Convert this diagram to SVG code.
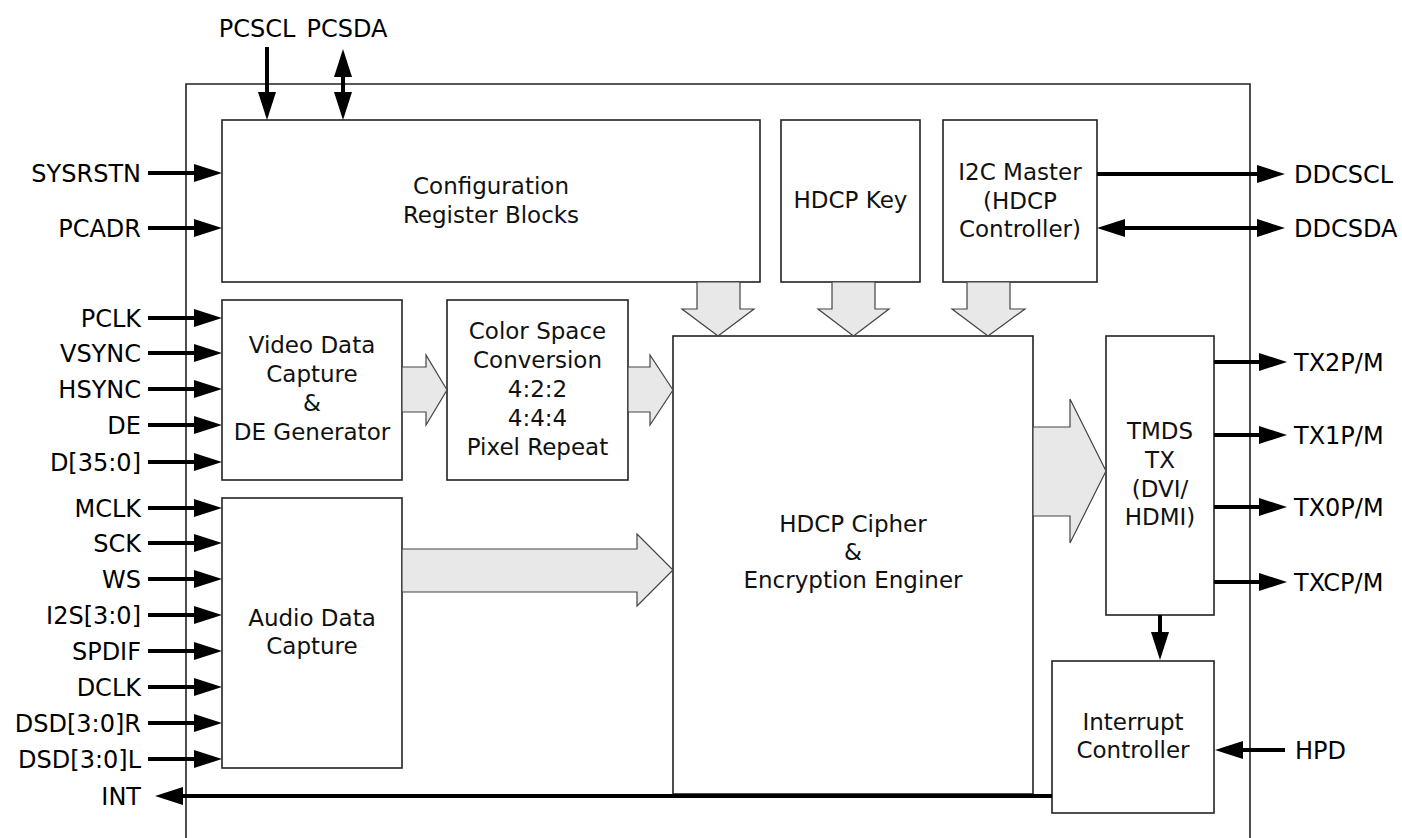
<svg xmlns="http://www.w3.org/2000/svg" width="1402" height="838" viewBox="0 0 1402 838">
<defs>
<style>
.box{fill:#fff;stroke:#222;stroke-width:1.6}
.frame{fill:none;stroke:#222;stroke-width:1.6}
.big{fill:#e8e8e8;stroke:#444;stroke-width:1.2;stroke-linejoin:miter}
.sig{stroke:#000;stroke-width:4;fill:none}
.lbl{font-family:"DejaVu Sans",Verdana,sans-serif;font-size:24px;fill:#000}
.blk{font-family:"DejaVu Sans",Verdana,sans-serif;font-size:23px;fill:#111;text-anchor:middle}
.r{text-anchor:end}
.m{text-anchor:middle}
</style>
<marker id="ah" markerUnits="userSpaceOnUse" markerWidth="28" markerHeight="18" viewBox="0 0 28 18" refX="2" refY="9" orient="auto-start-reverse">
<path d="M0,0 L28,9 L0,18 z" fill="#000"/>
</marker>
</defs>
<rect width="1402" height="838" fill="#fff"/>
<path class="frame" d="M186,840 V84 H1250 V840"/>

<g id="config"><rect class="box" x="222" y="120" width="538" height="162"/>
<text class="blk" x="491" y="194">Configuration</text><text class="blk" x="491" y="223">Register Blocks</text></g>
<g id="hdcpkey"><rect class="box" x="781" y="120" width="139" height="162"/>
<text class="blk" x="850.5" y="208">HDCP Key</text></g>
<g id="i2c"><rect class="box" x="943" y="120" width="154" height="162"/>
<text class="blk" x="1020" y="180">I2C Master</text><text class="blk" x="1020" y="209">(HDCP</text><text class="blk" x="1020" y="237">Controller)</text></g>
<g id="video"><rect class="box" x="222" y="300" width="180" height="180"/>
<text class="blk" x="312" y="353">Video Data</text><text class="blk" x="312" y="382">Capture</text><text class="blk" x="312" y="411">&amp;</text><text class="blk" x="312" y="440">DE Generator</text></g>
<g id="csc"><rect class="box" x="447" y="300" width="181" height="180"/>
<text class="blk" x="537.5" y="339">Color Space</text><text class="blk" x="537.5" y="368">Conversion</text><text class="blk" x="537.5" y="397">4:2:2</text><text class="blk" x="537.5" y="426">4:4:4</text><text class="blk" x="537.5" y="455">Pixel Repeat</text></g>
<g id="audio"><rect class="box" x="222" y="498" width="180" height="270"/>
<text class="blk" x="312" y="626">Audio Data</text><text class="blk" x="312" y="654">Capture</text></g>
<g id="cipher"><rect class="box" x="673" y="336" width="360" height="458"/>
<text class="blk" x="853" y="532">HDCP Cipher</text><text class="blk" x="853" y="560">&amp;</text><text class="blk" x="853" y="588">Encryption Enginer</text></g>
<g id="tmds"><rect class="box" x="1106" y="336" width="108" height="279"/>
<text class="blk" x="1160" y="439">TMDS</text><text class="blk" x="1160" y="468">TX</text><text class="blk" x="1160" y="497">(DVI/</text><text class="blk" x="1160" y="525">HDMI)</text></g>
<g id="intc"><rect class="box" x="1052" y="661" width="162" height="152"/>
<text class="blk" x="1133" y="730">Interrupt</text><text class="blk" x="1133" y="758">Controller</text></g>

<g id="connectors">
<polygon class="big" points="402,367 426,367 426,355 447,390 426,425 426,412 402,412"/>
<polygon class="big" points="628,367 650,367 650,355 673,390 650,425 650,412 628,412"/>
<polygon class="big" points="402,549 637,549 637,534 673,570 637,606 637,592 402,592"/>
<polygon class="big" points="1033,427 1070,427 1070,399 1106,471 1070,543 1070,516 1033,516"/>
<polygon class="big" points="697,282 740,282 740,309 754,309 718,336 682,309 697,309"/>
<polygon class="big" points="832,282 875,282 875,309 889,309 853.5,336 818,309 832,309"/>
<polygon class="big" points="967,282 1010,282 1010,309 1025,309 988,336 952,309 967,309"/>

<g marker-end="url(#ah)">
<line class="sig" x1="148" y1="173" x2="196" y2="173"/>
<line class="sig" x1="148" y1="228" x2="196" y2="228"/>
<line class="sig" x1="148" y1="318" x2="196" y2="318"/>
<line class="sig" x1="148" y1="353" x2="196" y2="353"/>
<line class="sig" x1="148" y1="389" x2="196" y2="389"/>
<line class="sig" x1="148" y1="425" x2="196" y2="425"/>
<line class="sig" x1="148" y1="462" x2="196" y2="462"/>
<line class="sig" x1="148" y1="508" x2="196" y2="508"/>
<line class="sig" x1="148" y1="543" x2="196" y2="543"/>
<line class="sig" x1="148" y1="579" x2="196" y2="579"/>
<line class="sig" x1="148" y1="615" x2="196" y2="615"/>
<line class="sig" x1="148" y1="651" x2="196" y2="651"/>
<line class="sig" x1="148" y1="687" x2="196" y2="687"/>
<line class="sig" x1="148" y1="723" x2="196" y2="723"/>
<line class="sig" x1="148" y1="759" x2="196" y2="759"/>
<line class="sig" x1="1052" y1="796" x2="181" y2="796"/>
<line class="sig" x1="267" y1="47" x2="267" y2="94"/>
<line class="sig" x1="1097" y1="174" x2="1259" y2="174"/>
<line class="sig" x1="1214" y1="362" x2="1261" y2="362"/>
<line class="sig" x1="1214" y1="435" x2="1261" y2="435"/>
<line class="sig" x1="1214" y1="507" x2="1261" y2="507"/>
<line class="sig" x1="1214" y1="582" x2="1261" y2="582"/>
<line class="sig" x1="1285" y1="750" x2="1241" y2="750"/>
<line class="sig" x1="1160" y1="615" x2="1160" y2="634"/>
</g>
<line class="sig" x1="343" y1="75" x2="343" y2="94" marker-start="url(#ah)" marker-end="url(#ah)"/>
<line class="sig" x1="1123" y1="228" x2="1259" y2="228" marker-start="url(#ah)" marker-end="url(#ah)"/>
</g>

<g id="labels">
<text class="lbl m" x="257" y="37">PCSCL</text>
<text class="lbl m" x="347" y="37">PCSDA</text>
<text class="lbl r" x="141" y="181.5">SYSRSTN</text>
<text class="lbl r" x="141" y="236.5">PCADR</text>
<text class="lbl r" x="141" y="326.5">PCLK</text>
<text class="lbl r" x="141" y="361.5">VSYNC</text>
<text class="lbl r" x="141" y="397.5">HSYNC</text>
<text class="lbl r" x="141" y="433.5">DE</text>
<text class="lbl r" x="141" y="470.5">D[35:0]</text>
<text class="lbl r" x="141" y="516.5">MCLK</text>
<text class="lbl r" x="141" y="551.5">SCK</text>
<text class="lbl r" x="141" y="587.5">WS</text>
<text class="lbl r" x="141" y="623.5">I2S[3:0]</text>
<text class="lbl r" x="141" y="659.5">SPDIF</text>
<text class="lbl r" x="141" y="695.5">DCLK</text>
<text class="lbl r" x="141" y="731.5">DSD[3:0]R</text>
<text class="lbl r" x="141" y="767.5">DSD[3:0]L</text>
<text class="lbl r" x="141" y="804.5">INT</text>
<text class="lbl" x="1294" y="182.5">DDCSCL</text>
<text class="lbl" x="1294" y="236.5">DDCSDA</text>
<text class="lbl" x="1294" y="370.5">TX2P/M</text>
<text class="lbl" x="1294" y="443.5">TX1P/M</text>
<text class="lbl" x="1294" y="515.5">TX0P/M</text>
<text class="lbl" x="1294" y="590.5">TXCP/M</text>
<text class="lbl" x="1295" y="758.5">HPD</text>
</g>
</svg>
